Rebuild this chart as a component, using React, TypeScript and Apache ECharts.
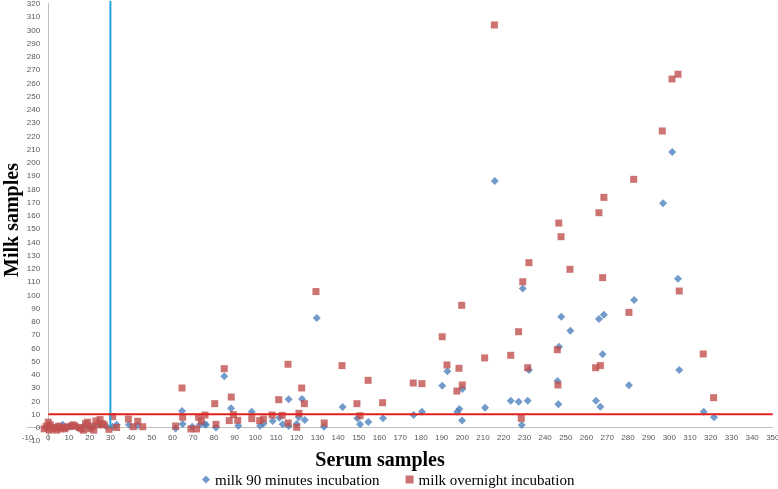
import React, { useEffect, useRef } from "react";
import * as echarts from "echarts";

const xTickMin = -10;
const xTickMax = 350;
const yTickMin = -10;
const yTickMax = 320;
const tickStep = 10;

const seriesNames = ["milk 90 minutes incubation", "milk overnight incubation"];

const milk90: number[][] = [
  [-1, 0], [1, 1], [3, 0], [5, 1], [7, 2], [9, 0], [11, 1], [14, 0], [17, 1], [20, 0], [22, 1], [25, 2], [28, 1],
  [31, 0.5], [33, 2], [39, 2], [43, 1.5],
  [61.5, -0.8], [64.6, 12.5], [64.9, 2.6], [69.5, 0.6], [73.3, 2], [75.4, 2.6], [76.2, 2], [81, 0], [85, 38.6],
  [88.3, 14.5], [91.8, 1.4], [98.3, 11.9], [102.3, 1.4], [104, 3], [108.4, 4.9], [111.6, 7.4], [113.2, 2.4],
  [116.1, 21.3], [116.1, 1.1], [120, 2.6], [121, 7.7], [122.6, 21.5], [123.9, 5.7], [129.7, 82.6], [133.2, 0.6],
  [142.2, 15.5], [149.3, 6.9], [150.6, 2.4], [154.6, 4.2], [161.7, 6.9], [176.5, 9.4], [180.5, 11.9],
  [190.3, 31.5], [192.8, 42.4], [197.6, 11.9], [198.6, 14], [200, 29.1], [199.9, 5.2], [211, 15], [215.7, 186],
  [223.4, 20.2], [227.2, 19.5], [228.7, 1.9], [229.2, 105], [231.6, 20.2], [232.2, 43.4], [246, 35.1],
  [246.4, 17.5], [246.7, 61], [247.8, 83.6], [252.2, 73.1], [264.6, 20.2], [266, 81.9], [266.7, 15.7],
  [267.8, 55.2], [268.4, 85.1], [280.5, 31.8], [283, 96.2], [297, 169.2], [301.4, 207.9], [304.2, 112.3],
  [304.8, 43.4], [316.6, 11.9], [321.6, 7.7],
];

const milkOvernight: number[][] = [
  [-2, -1], [-1, 1], [0, 4], [0.5, -2], [1, 2], [2, -1], [3, 0], [4, -2], [5, 1], [6, -1], [7, 0], [8, -1],
  [9, 0.5], [11, 1], [12, 2], [13, 1], [15, 0], [16, -1], [17, -2], [18, 3], [19, 4], [20, -1], [21, 1],
  [22, -2], [23, 5], [24, 2], [25, 6], [26, 3], [27, 2], [29.3, -1.4], [31.1, 8.2], [33, 0], [38.7, 6.4],
  [41, 0.6], [43.2, 4.7], [45.6, 0.6],
  [61.5, 1.1], [64.6, 29.8], [64.9, 7.7], [68.9, -1.1], [71.6, -1.1], [72.6, 7.7], [73.9, 4.7], [75.7, 9.4],
  [80.4, 18], [81, 2.4], [85, 44.4], [87.4, 5.2], [88.4, 23], [89.4, 9.7], [91.5, 5.4], [98.3, 6.7],
  [102.1, 5.2], [103.9, 6.4], [108.1, 9.4], [111.3, 21], [113, 9.2], [115.8, 47.7], [115.9, 3.4], [120, 0.2],
  [121.1, 10.7], [122.4, 29.8], [123.7, 18], [129.3, 102.6], [133.3, 3.4], [141.9, 46.7], [149.1, 18],
  [150.6, 8.9], [154.5, 35.6], [161.5, 18.7], [176.3, 33.6], [180.5, 33.1], [190.3, 68.5], [192.6, 47.2],
  [197.4, 27.5], [198.4, 44.7], [199.7, 92.2], [200, 32.1], [210.8, 52.5], [215.5, 303.8], [223.4, 54.5],
  [227.2, 72.3], [228.5, 6.9], [229.2, 110], [231.6, 45.1], [232.2, 124.4], [245.9, 58.7], [246.2, 32.1],
  [246.6, 154.3], [247.7, 144], [252, 119.4], [264.4, 45.1], [266, 162.1], [266.7, 46.7], [267.8, 113.1],
  [268.4, 173.7], [280.5, 86.9], [282.8, 187.3], [296.6, 223.8], [301.3, 263], [304.2, 266.6], [304.8, 103],
  [316.4, 55.5], [321.4, 22.5],
];

const serumCutoff: number[][] = [[30, 0], [30, 322]];
const milkCutoff: number[][] = [[0, 10], [350, 10]];

export default function App() {
  const ref = useRef<HTMLDivElement>(null);
  useEffect(() => {
    if (!ref.current) return;
    const chart = echarts.init(ref.current, null, { renderer: "svg" });
    const axisLabel = { color: "#595959", fontSize: 8, fontFamily: "Liberation Sans" };
    chart.setOption({
      animation: false,
      grid: { left: 27.6, right: 5.2, top: 3.5, bottom: 48.25, containLabel: false, outerBoundsMode: "none" },
      xAxis: {
        type: "value",
        min: xTickMin,
        max: xTickMax,
        interval: tickStep,
        splitLine: { show: false },
        axisTick: { show: false },
        axisLine: { onZero: true, lineStyle: { color: "#BFBFBF", width: 1 } },
        axisLabel: { ...axisLabel, margin: -7.5 },
      },
      yAxis: {
        type: "value",
        min: yTickMin,
        max: yTickMax,
        interval: tickStep,
        splitLine: { show: false },
        axisTick: { show: false },
        axisLine: { onZero: true, lineStyle: { color: "#BFBFBF", width: 1 } },
        axisLabel: { ...axisLabel, margin: -12.5 },
      },
      legend: {
        data: seriesNames,
        left: 197,
        top: 467,
        itemWidth: 8,
        itemHeight: 8,
        itemGap: 26,
        textStyle: { fontFamily: "Liberation Serif", fontSize: 15, color: "#000" },
      },
      graphic: [
        {
          type: "text",
          x: 380,
          y: 459,
          style: {
            text: "Serum samples",
            fontFamily: "Liberation Serif",
            fontWeight: "bold",
            fontSize: 20,
            fill: "#000",
            textAlign: "center",
            textVerticalAlign: "middle",
          },
        },
        {
          type: "text",
          x: 10.5,
          y: 220,
          rotation: Math.PI / 2,
          style: {
            text: "Milk samples",
            fontFamily: "Liberation Serif",
            fontWeight: "bold",
            fontSize: 20,
            fill: "#000",
            textAlign: "center",
            textVerticalAlign: "middle",
          },
        },
      ],
      series: [
        {
          name: seriesNames[0],
          type: "scatter",
          symbol: "diamond",
          symbolSize: 8,
          itemStyle: { color: "#4F81BD" },
          data: milk90,
          z: 2,
        },
        {
          name: seriesNames[1],
          type: "scatter",
          symbol: "rect",
          symbolSize: 7,
          itemStyle: { color: "#C0504D" },
          data: milkOvernight,
          z: 3,
        },
        {
          type: "line",
          data: serumCutoff,
          symbol: "none",
          clip: false,
          lineStyle: { color: "#27A3DC", width: 2 },
          z: 4,
        },
        {
          type: "line",
          data: milkCutoff,
          symbol: "none",
          clip: false,
          lineStyle: { color: "#E2201E", width: 2 },
          z: 4,
        },
      ],
    });
    return () => chart.dispose();
  }, []);
  return <div ref={ref} style={{ position: "fixed", left: 0, top: 0, width: 778, height: 489 }} />;
}
